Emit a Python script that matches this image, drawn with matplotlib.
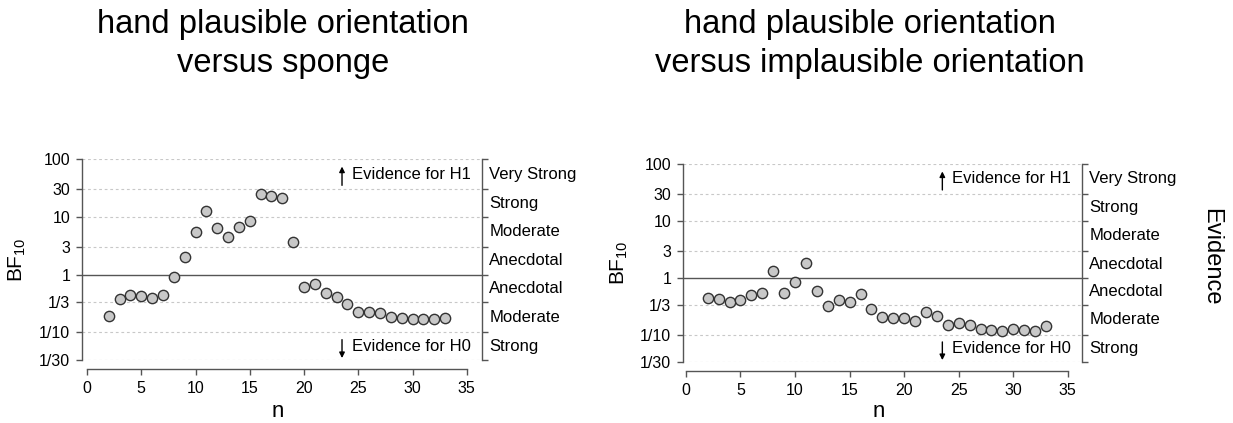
import numpy as np
import matplotlib
matplotlib.use('Agg')
import matplotlib.pyplot as plt
from matplotlib.ticker import NullLocator
from matplotlib.transforms import blended_transform_factory

plt.rcParams['font.family'] = ['Liberation Sans', 'DejaVu Sans']
plt.rcParams['mathtext.default'] = 'regular'

# sample size per step
n_vals = [2, 3, 4, 5, 6, 7, 8, 9, 10, 11, 12, 13, 14, 15, 16, 17,
          18, 19, 20, 21, 22, 23, 24, 25, 26, 27, 28, 29, 30, 31, 32, 33]

# BF10
bf_sponge = [0.19, 0.38, 0.44, 0.42, 0.39, 0.45, 0.92, 2.04, 5.5, 12.7,
             6.3, 4.5, 6.65, 8.5, 24.8, 22.6, 20.9, 3.73, 0.61, 0.68,
             0.49, 0.41, 0.31, 0.229, 0.223, 0.217, 0.183, 0.178, 0.174,
             0.174, 0.174, 0.178]
bf_implausible = [0.44, 0.42, 0.376, 0.41, 0.50, 0.54, 1.34, 0.55, 0.83,
                  1.86, 0.60, 0.316, 0.41, 0.37, 0.52, 0.29, 0.207, 0.20,
                  0.196, 0.172, 0.256, 0.218, 0.149, 0.163, 0.149, 0.129,
                  0.124, 0.119, 0.129, 0.122, 0.117, 0.143]

bf_ticks = [1/30, 1/10, 1/3, 1, 3, 10, 30, 100]
bf_tick_labels = ['1/30', '1/10', '1/3', '1', '3', '10', '30', '100']
evidence_labels = ['Strong', 'Moderate', 'Anecdotal', 'Anecdotal',
                   'Moderate', 'Strong', 'Very Strong']

titles = [('hand plausible orientation', 'versus sponge'),
          ('hand plausible orientation', 'versus implausible orientation')]

AXIS_COL = '#555555'
GRID_COL = '#c8c8c8'


def draw_panel(ax, bf, xlim, ylab_x, xlab_y):
    ax.set_yscale('log')
    ax.set_ylim(1/30, 100)
    ax.set_xlim(*xlim)

    for v in bf_ticks:
        if v == 1:
            ax.axhline(v, color=AXIS_COL, lw=1.0, zorder=1)
        else:
            ax.axhline(v, color=GRID_COL, lw=0.8, ls=(0, (2.5, 2.5)),
                       zorder=0)

    ax.scatter(n_vals, bf, s=55, facecolor='#c8c8c8', edgecolor='#333333',
               linewidth=1.0, zorder=3)

    ax.spines['top'].set_visible(False)
    for side in ['left', 'right', 'bottom']:
        ax.spines[side].set_color(AXIS_COL)
        ax.spines[side].set_linewidth(1.0)
    ax.spines['left'].set_bounds(1/30, 100)
    ax.spines['right'].set_bounds(1/30, 100)
    ax.spines['bottom'].set_bounds(0, 35)
    ax.spines['bottom'].set_position(('outward', 6.5))

    ax.set_yticks(bf_ticks)
    ax.set_yticklabels(bf_tick_labels)
    ax.yaxis.set_minor_locator(NullLocator())
    ax.set_xticks([0, 5, 10, 15, 20, 25, 30, 35])
    ax.tick_params(axis='both', direction='out', length=4.5, width=1.0,
                   color=AXIS_COL, labelsize=11.5, pad=4)
    ax.tick_params(axis='y', right=True)

    ax.set_xlabel('n', fontsize=16)
    ax.xaxis.set_label_coords(0.49, xlab_y)
    ax.set_ylabel('BF$_{10}$', fontsize=15)
    ax.yaxis.set_label_coords(ylab_x, 0.5)

    # evidence categories between the right-hand ticks
    trans = blended_transform_factory(ax.transAxes, ax.transData)
    for lo, hi, lab in zip(bf_ticks[:-1], bf_ticks[1:], evidence_labels):
        ax.text(1.018, np.sqrt(lo * hi), lab, transform=trans,
                ha='left', va='center', fontsize=12)

    # direction hints
    ax.annotate('', xy=(23.5, 74), xytext=(23.5, 35),
                arrowprops=dict(arrowstyle='-|>', lw=1.0, color='black',
                                mutation_scale=8, shrinkA=0, shrinkB=0))
    ax.text(24.4, np.sqrt(30 * 100), 'Evidence for H1', ha='left',
            va='center', fontsize=12)
    ax.annotate('', xy=(23.5, 0.036), xytext=(23.5, 0.075),
                arrowprops=dict(arrowstyle='-|>', lw=1.0, color='black',
                                mutation_scale=8, shrinkA=0, shrinkB=0))
    ax.text(24.4, np.sqrt(1/30 * 1/10), 'Evidence for H0', ha='left',
            va='center', fontsize=12)


fig = plt.figure(figsize=(12.33, 4.23), dpi=100)
W, H = 1233, 423

ax1 = fig.add_axes([82 / W, 1 - 360 / H, 400 / W, 201 / H])
draw_panel(ax1, bf_sponge, (-0.46, 36.4), -0.135, -0.205)

ax2 = fig.add_axes([683 / W, 1 - 362 / H, 399 / W, 198 / H])
draw_panel(ax2, bf_implausible, (-0.27, 36.3), -0.133, -0.198)

for (l1, l2), cx in zip(titles, [283, 870]):
    fig.text(cx / W, 1 - 33 / H, l1, ha='center', va='baseline',
             fontsize=23.5)
    fig.text(cx / W, 1 - 72 / H, l2, ha='center', va='baseline',
             fontsize=23.5)

fig.text(1211 / W, 1 - 257 / H, 'Evidence', rotation=-90, ha='center',
         va='center', fontsize=17)

fig.savefig('out.png', dpi=100, facecolor='white')
